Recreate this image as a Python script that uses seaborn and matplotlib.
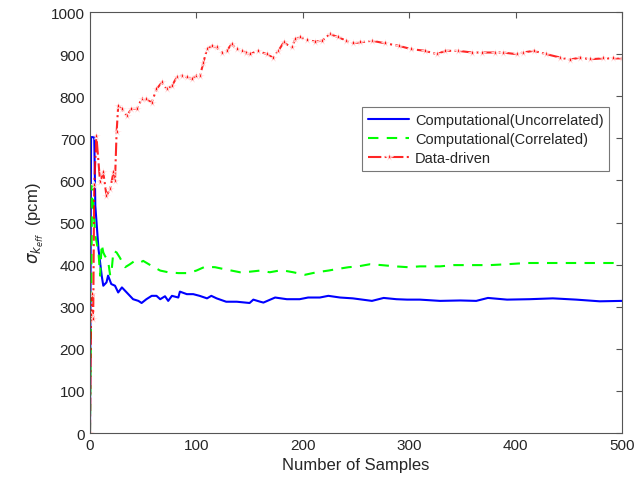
import numpy as np
import pandas as pd
import seaborn as sns
import matplotlib.pyplot as plt

# Values
unc_x = [0, 1, 2, 3, 4, 5, 8, 11, 12.5, 15.5, 17, 20, 23.5, 26.5, 30, 33, 36, 40.5, 45.5, 48.5,
         53, 58, 62.5, 66, 70.5, 73.5, 77, 83, 84.5, 91, 97, 103, 110, 114, 119, 128, 138, 150, 153.5, 160,
         163, 174, 185, 197, 205, 216, 224, 235, 247, 265, 276, 288, 298, 310, 329, 348, 363, 374, 392, 413,
         435, 457, 479, 500]
unc_y = [0, 703, 703, 703, 703, 540, 437, 374, 350, 358, 374, 354, 350, 334, 346, 338, 330, 318, 314, 309,
         318, 326, 326, 318, 325, 314, 326, 322, 336, 330, 330, 326, 320, 326, 320, 312, 312, 309, 317, 312,
         310, 322, 318, 318, 322, 322, 326, 322, 320, 314, 321, 318, 317, 317, 314, 315, 314, 321, 317, 318,
         320, 317, 313, 314]

cor_x = [0, 2, 3, 5, 8, 9.5, 11, 12.5, 14, 17, 19, 20.5, 22, 25, 28, 33, 37.5, 42, 47, 50,
         58, 66, 73.5, 83, 92, 100, 108, 117.5, 125, 141, 149, 160, 169, 180, 191, 202, 213, 224, 233, 243,
         252, 263, 274, 287, 299, 310, 329, 341.5, 357, 376, 391.5, 410, 421, 435, 454, 473, 492, 500]
cor_y = [0, 590, 540, 470, 429, 374, 449, 429, 421, 409, 374, 390, 433, 429, 417, 394, 401, 409, 405, 409,
         397, 386, 382, 380, 380, 386, 395, 394, 390, 382, 383, 386, 382, 387, 382, 376, 382, 386, 390, 394,
         396, 401, 399, 396, 394, 396, 396, 399, 399, 399, 401, 404, 404, 404, 404, 404, 404, 403]

dd_x = [0, 1, 2, 3, 4, 6, 9.5, 12.5, 15.5, 19, 22, 23.5, 25, 26.5, 30, 34.5, 39, 44, 48.5, 53,
        58, 62.5, 67.5, 72, 77, 81.5, 86, 91, 95.5, 100, 103.5, 106.5, 110, 114.5, 119, 124, 128.5, 133, 138, 142.5,
        147, 150, 158, 166, 172, 177, 182, 189.5, 193, 197.5, 204, 211.5, 218, 225.5, 233.5, 241, 247.5, 254, 265, 277,
        290, 302, 315, 326, 334, 346, 359, 368, 381, 388, 401, 407, 417, 429, 442, 451, 460.5, 470, 482, 492, 500]
dd_y = [0, 280, 330, 270, 590, 706, 596, 619, 564, 580, 619, 599, 714, 777, 770, 754, 770, 770, 793, 793,
        785, 817, 833, 817, 825, 845, 849, 845, 841, 849, 849, 880, 912, 920, 916, 904, 908, 924, 912, 908,
        904, 900, 908, 900, 892, 908, 928, 916, 936, 940, 934, 930, 932, 948, 940, 932, 926, 928, 932, 926,
        920, 912, 908, 900, 908, 908, 904, 904, 904, 904, 900, 904, 908, 900, 892, 887, 892, 888, 890, 890, 890]

labels = ['Computational(Uncorrelated)', 'Computational(Correlated)', 'Data-driven']

sns.set_style('white')
plt.rcParams['font.family'] = ['Liberation Sans', 'DejaVu Sans']

fig = plt.figure(figsize=(6.36, 4.85), dpi=100)
ax = fig.add_axes([0.1415, 0.105, 0.8365, 0.868])

df_unc = pd.DataFrame({'x': unc_x, 'y': unc_y})
df_cor = pd.DataFrame({'x': cor_x, 'y': cor_y})
df_dd = pd.DataFrame({'x': dd_x, 'y': dd_y})

sns.lineplot(data=df_unc, x='x', y='y', ax=ax, color='#0000ff', lw=1.5,
             estimator=None, sort=False, label=labels[0])
sns.lineplot(data=df_cor, x='x', y='y', ax=ax, color='#00ff00', lw=1.5,
             estimator=None, sort=False, label=labels[1], dashes=False)
ax.lines[-1].set_dashes([5, 4])
sns.lineplot(data=df_dd, x='x', y='y', ax=ax, color='#ff0000', lw=1.5,
             estimator=None, sort=False, label=labels[2], dashes=False,
             marker='*', markersize=5.5, markeredgewidth=0.6, alpha=0.85)
ax.lines[-1].set_linestyle('-.')

ax.set_xlim(0, 500)
ax.set_ylim(0, 1000)
ax.set_xticks(np.arange(0, 501, 100))
ax.set_yticks(np.arange(0, 1001, 100))
ax.tick_params(direction='in', top=True, right=True, length=4, labelsize=11,
               color='#555555', labelcolor='#262626')
for s in ax.spines.values():
    s.set_color('#555555')
    s.set_linewidth(0.8)

ax.set_xlabel('Number of Samples', fontsize=12, color='#262626')
ax.set_ylabel(r'$\sigma_{k_{eff}}$  (pcm)', fontsize=12, color='#262626')

leg = ax.legend(loc='upper right', bbox_to_anchor=(0.976, 0.774), borderaxespad=0,
                fontsize=10.5, frameon=True, fancybox=False, handlelength=2.8,
                borderpad=0.4, labelspacing=0.35, handletextpad=0.4)
leg.get_frame().set_edgecolor('#555555')
leg.get_frame().set_linewidth(0.8)

fig.savefig('out.png', dpi=100)
